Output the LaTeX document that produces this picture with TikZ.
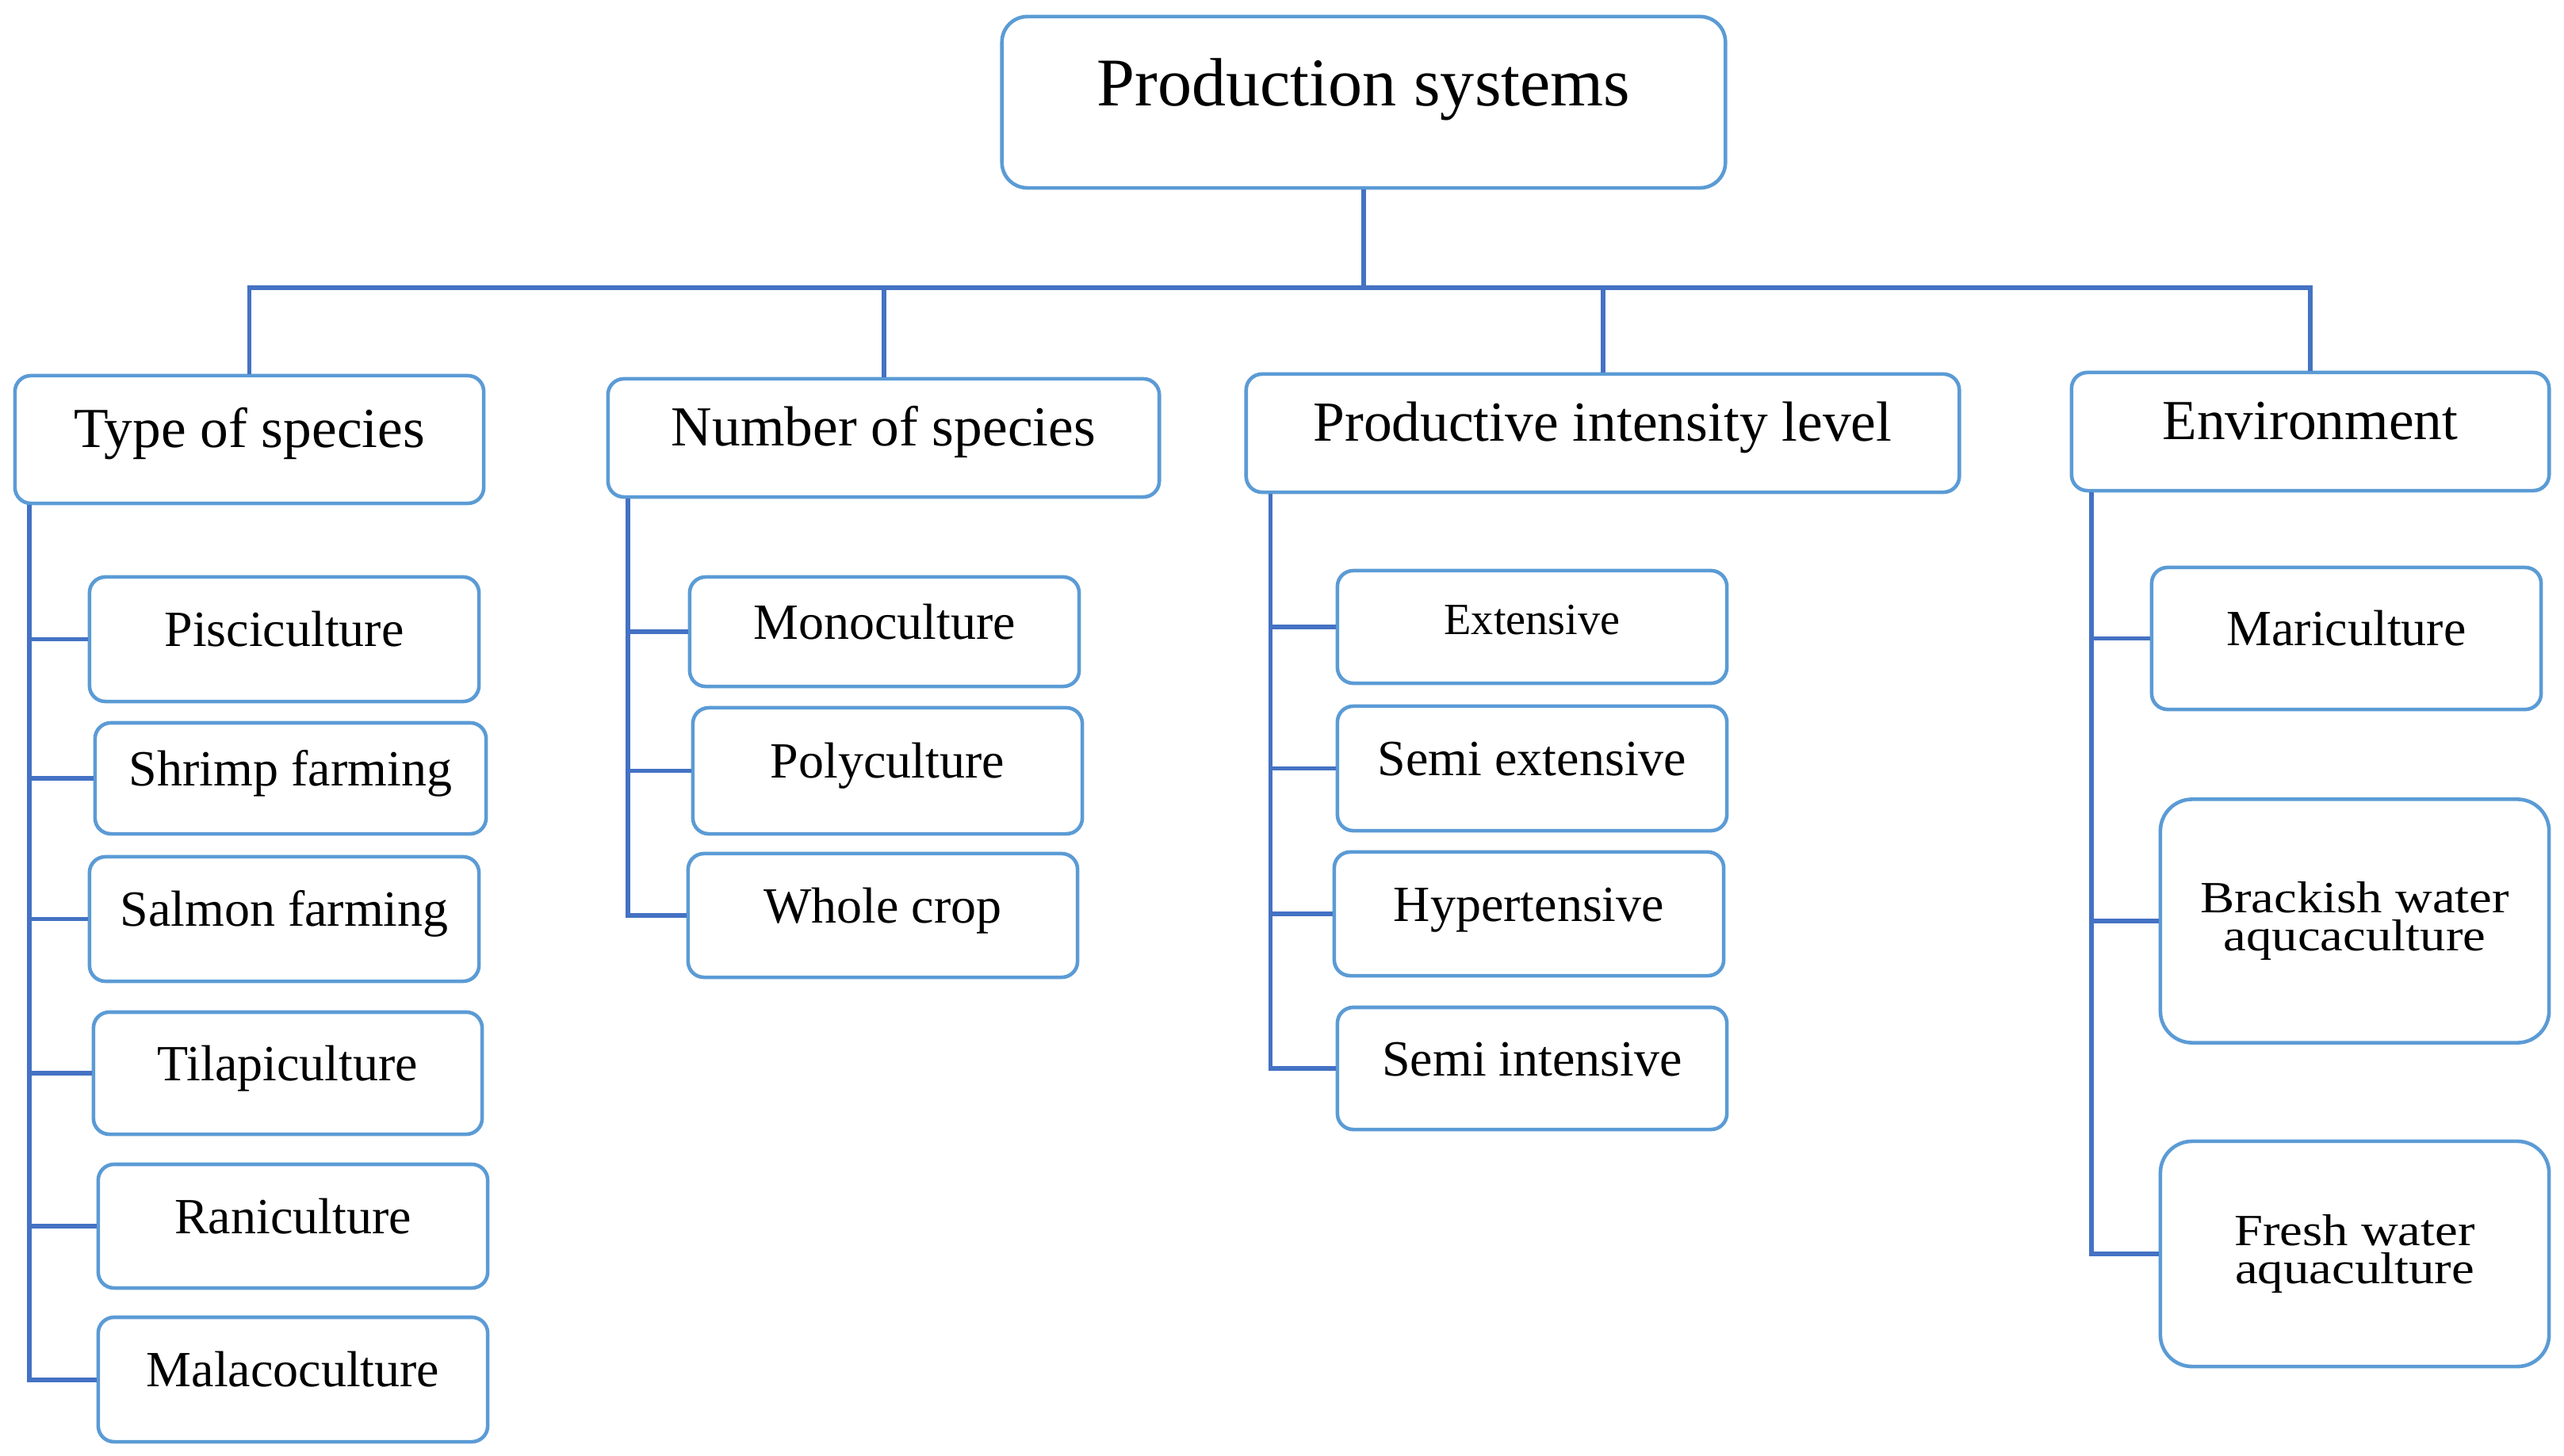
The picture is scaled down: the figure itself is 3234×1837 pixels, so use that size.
\documentclass[tikz,border=0pt]{standalone}
\usepackage{fontspec}
\setmainfont{Liberation Serif}
\definecolor{boxblue}{HTML}{5B9BD5}
\definecolor{linkblue}{HTML}{4472C4}
\tikzset{
  basebox/.style={draw=boxblue, line width=1.3pt, rounded corners=0.2cm, fill=white, inner sep=0pt, align=center, text=black},
  rootbox/.style={basebox, rounded corners=0.32cm, font=\fontsize{24.5}{28}\selectfont, text height=0.66em, text depth=0.14cm},
  catbox/.style={basebox, font=\fontsize{20.3}{24}\selectfont, text height=0.66em, text depth=0.03cm},
  leafbox/.style={basebox, font=\fontsize{18.2}{21}\selectfont, text height=0.66em, text depth=0.05cm},
  bigleaf/.style={basebox, rounded corners=0.4cm, font=\fontsize{16}{13.5}\selectfont},
  conn/.style={draw=linkblue, line width=1.7pt}
}
\begin{document}
\begin{tikzpicture}[x=0.01cm, y=-0.01cm]
\useasboundingbox (0,0) rectangle (3234,1837);

% root
\node[rootbox, minimum width=9.12cm, minimum height=2.16cm] (root) at (1720,129) {Production systems};

% categories
\node[catbox, minimum width=5.91cm, minimum height=1.61cm] (ts) at (314.5,554.5) {Type of species};
\node[catbox, minimum width=6.95cm, minimum height=1.49cm] (ns) at (1114.5,552.5) {Number of species};
\node[catbox, minimum width=8.99cm, minimum height=1.49cm] (pi) at (2021.5,546.5) {Productive intensity level};
\node[catbox, minimum width=6.02cm, minimum height=1.49cm] (en) at (2914,544.5) {Environment};

% type of species
\node[leafbox, minimum width=4.91cm, minimum height=1.57cm] (pis) at (358.5,806.5) {Pisciculture};
\node[leafbox, minimum width=4.93cm, minimum height=1.40cm] (shr) at (366.5,982) {Shrimp farming};
\node[leafbox, minimum width=4.91cm, minimum height=1.57cm] (sal) at (358.5,1159.5) {Salmon farming};
\node[leafbox, minimum width=4.90cm, minimum height=1.54cm] (til) at (363,1354) {Tilapiculture};
\node[leafbox, minimum width=4.91cm, minimum height=1.56cm] (ran) at (369.5,1547) {Raniculture};
\node[leafbox, minimum width=4.91cm, minimum height=1.57cm] (mal) at (369.5,1740.5) {Malacoculture};

% number of species
\node[leafbox, minimum width=4.91cm, minimum height=1.38cm] (mono) at (1115.5,797) {Monoculture};
\node[leafbox, minimum width=4.91cm, minimum height=1.59cm] (poly) at (1119.5,972.5) {Polyculture};
\node[leafbox, minimum width=4.91cm, minimum height=1.56cm] (whole) at (1113.5,1155) {Whole crop};

% productive intensity level
\node[leafbox, font=\fontsize{16}{19}\selectfont, minimum width=4.91cm, minimum height=1.42cm] (ext) at (1932.5,791) {Extensive};
\node[leafbox, minimum width=4.91cm, minimum height=1.57cm] (sext) at (1932.5,969.5) {Semi extensive};
\node[leafbox, minimum width=4.91cm, minimum height=1.56cm] (hyp) at (1928.5,1153) {Hypertensive};
\node[leafbox, minimum width=4.91cm, minimum height=1.54cm] (sint) at (1932.5,1348) {Semi intensive};

% environment
\node[leafbox, minimum width=4.91cm, minimum height=1.79cm] (mari) at (2959.5,805.5) {Mariculture};
\node[bigleaf, minimum width=4.90cm, minimum height=3.07cm] (brack) at (2970,1162) {\scalebox{1.15}[1]{Brackish water}\\\scalebox{1.15}[1]{aqucaculture}};
\node[bigleaf, minimum width=4.90cm, minimum height=2.84cm] (fresh) at (2970,1582) {\scalebox{1.15}[1]{Fresh water}\\\scalebox{1.15}[1]{aquaculture}};

% root to categories
\foreach \c in {ts,ns,pi,en}
  \draw[conn] (root.south) -- ++(0,124) -| (\c.north);

% categories to leaves
\foreach \c in {pis,shr,sal,til,ran,mal}
  \draw[conn] ([xshift=0.2cm]ts.south west) |- (\c.west);
\foreach \c in {mono,poly,whole}
  \draw[conn] ([xshift=0.27cm]ns.south west) |- (\c.west);
\foreach \c in {ext,sext,hyp,sint}
  \draw[conn] ([xshift=0.33cm]pi.south west) |- (\c.west);
\foreach \c in {mari,brack,fresh}
  \draw[conn] ([xshift=0.27cm]en.south west) |- (\c.west);
\end{tikzpicture}
\end{document}
